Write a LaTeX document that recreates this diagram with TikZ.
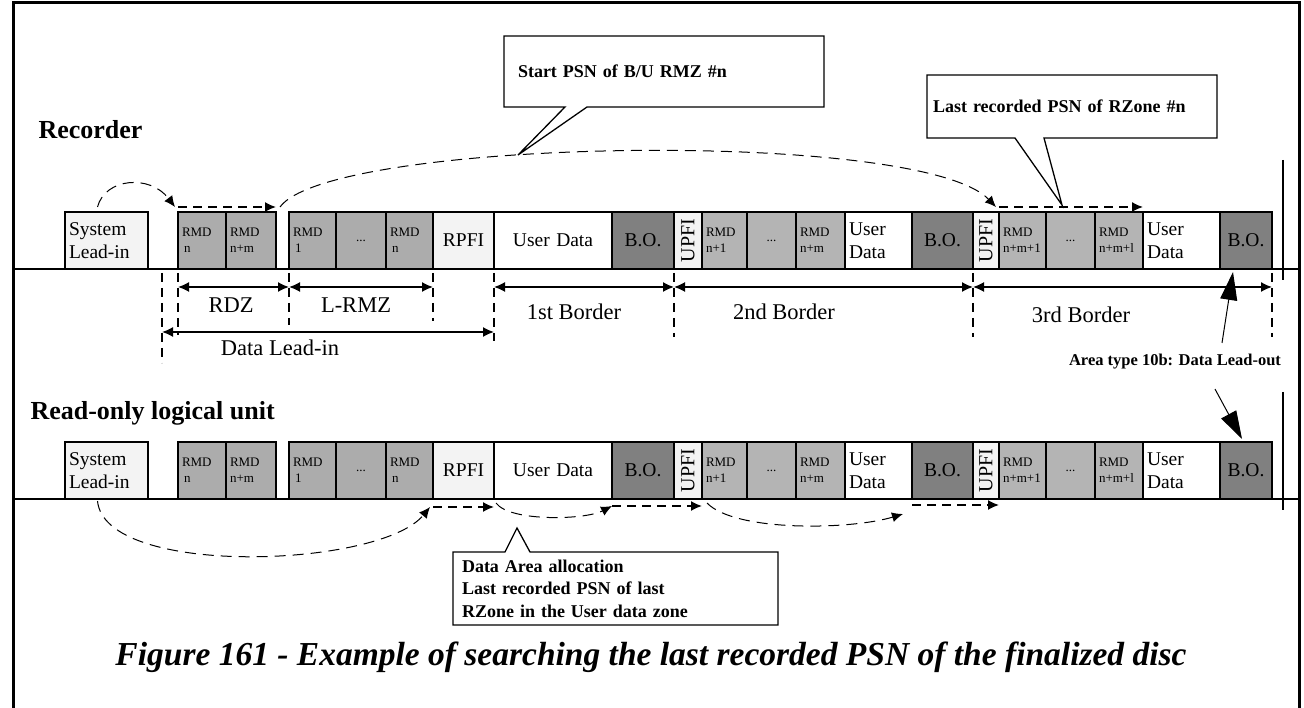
\documentclass[tikz,border=0pt]{standalone}
\usepackage{fontspec}
\setmainfont{Liberation Serif}
\usetikzlibrary{arrows.meta}

\definecolor{litegray}{RGB}{243,243,243}
\definecolor{rmdgray}{RGB}{172,172,172}
\definecolor{rmdgrayb}{RGB}{180,180,180}
\definecolor{bogray}{RGB}{128,128,128}

\begin{document}
\begin{tikzpicture}[x=1pt,y=-1pt,>=Latex]
\tikzset{
  cell/.style={draw, line width=1.6pt, outer sep=0pt, inner xsep=4pt, inner ysep=0pt,
    minimum height=57pt, anchor=south west, font=\fontsize{19.5}{23}\selectfont},
  liteL/.style={cell, fill=litegray, align=left},
  lite/.style={cell, fill=litegray, align=center},
  udL/.style={cell, fill=white, align=left},
  ud/.style={cell, fill=white, align=center},
  bo/.style={cell, fill=bogray, align=center},
  rmdA/.style={cell, fill=rmdgray, align=left, font=\fontsize{13}{16}\selectfont},
  rmdAc/.style={rmdA, align=center},
  rmdB/.style={cell, fill=rmdgrayb, align=left, font=\fontsize{13}{16}\selectfont},
  rmdBc/.style={rmdB, align=center},
  upfi/.style={rotate=90, font=\fontsize{20}{24}\selectfont},
  track/.style={line width=1.6pt},
  dim/.style={<->, line width=1.6pt, >={Latex[length=11pt,width=10pt]}},
  dimlab/.style={font=\fontsize{22.5}{27}\selectfont},
  tick/.style={line width=1.5pt, dash pattern=on 9pt off 6pt},
  dline/.style={->, line width=1.6pt, dash pattern=on 9pt off 6pt, >={Latex[length=11pt,width=10pt]}},
  dcurve/.style={->, line width=1pt, dash pattern=on 11pt off 7pt, >={Latex[length=11pt,width=10pt]}},
  cbox/.style={fill=white, outer sep=0pt, inner ysep=0pt, align=left,
    font=\fontsize{18}{22.5}\selectfont\bfseries},
  cline/.style={line width=1.3pt, line join=miter},
  head/.style={font=\fontsize{26}{31}\selectfont\bfseries, anchor=west},
  bigarr/.style={-{Triangle[length=28pt,width=17pt]}, line width=1pt},
}
\useasboundingbox (0,0) rectangle (1304,708);

% frame
\draw[line width=3pt] (13,708) -- (13,3) -- (1299,3) -- (1299,708);

% tracks
\coordinate (uL) at (13,269);
\coordinate (uR) at (1299,269);
\coordinate (lL) at (13,499);
\coordinate (lR) at (1299,499);
\draw[track] (uL) -- (uR);
\draw[track] (lL) -- (lR);
\coordinate (vu1) at (1283,160);
\coordinate (vu2) at (1283,280);
\coordinate (vl1) at (1283,392);
\coordinate (vl2) at (1283,510);
\draw[track] (vu1) -- (vu2);
\draw[track] (vl1) -- (vl2);

% cells of both tracks
\foreach \tr/\yb in {u/269,l/499}{
  \foreach \xa/\xb/\st/\txt/\nm in {
    65/148/liteL/{System\\Lead-in}/sli,
    178/226/rmdA/{RMD\\\hspace{2pt}n}/ra1,
    226/276/rmdA/{RMD\\n+m}/ra2,
    289/336/rmdA/{RMD\\\hspace{2pt}1}/rb1,
    336/386/rmdAc/{...}/rb2,
    386/433/rmdA/{RMD\\\hspace{2pt}n}/rb3,
    433/494/lite/{RPFI}/rpfi,
    494/612/ud/{User Data}/ud1,
    612/674/bo/{B.O.}/bo1,
    674/702/lite/{}/upfi1,
    702/747/rmdB/{RMD\\n+1}/rc1,
    747/796/rmdBc/{...}/rc2,
    796/845/rmdB/{RMD\\n+m}/rc3,
    845/912/udL/{User\\Data}/ud2,
    912/973/bo/{B.O.}/bo2,
    973/999/lite/{}/upfi2,
    999/1046/rmdB/{RMD\\n+m+1}/rd1,
    1046/1095/rmdBc/{...}/rd2,
    1095/1143/rmdB/{RMD\\n+m+l}/rd3,
    1143/1220/udL/{User\\Data}/ud3,
    1220/1272/bo/{B.O.}/bo3}{
    \pgfmathsetmacro\w{\xb-\xa}
    \pgfmathsetmacro\tw{\xb-\xa-8}
    \node[\st, minimum width=\w pt, text width=\tw pt] (\tr\nm) at (\xa,\yb) {\txt};
  }
  \node[upfi] at (\tr upfi1) {UPFI};
  \node[upfi] at (\tr upfi2) {UPFI};
}

% headings
\node[head] (rec) at (35,130) {Recorder};
\node[head] (rol) at (27,413) {Read-only logical unit};

% dimension lines
\coordinate (dA) at (0,287);
\coordinate (dB) at (0,332);
\coordinate (dl0) at (162,269);
\draw[tick] ([yshift=-4pt]dl0) -- ++(0,90);
\draw[tick] ([yshift=-4pt]ura1.south west) -- ++(0,62);
\draw[tick] ([yshift=-4pt]urb1.south west) -- ++(0,52);
\draw[tick] ([yshift=-4pt]urb3.south east) -- ++(0,48);
\draw[tick] ([yshift=-4pt]uud1.south west) -- ++(0,68);
\draw[tick] ([yshift=-4pt]uupfi1.south west) -- ++(0,64);
\draw[tick] ([yshift=-4pt]uupfi2.south west) -- ++(0,64);
\draw[tick] ([yshift=-4pt]ubo3.south east) -- ++(0,64);

\draw[dim] (ura1.south west |- dA) -- (urb1.south west |- dA);
\draw[dim] (urb1.south west |- dA) -- (urb3.south east |- dA);
\draw[dim] (dl0 |- dB) -- (uud1.south west |- dB);
\draw[dim] (uud1.south west |- dA) -- (ubo1.south east |- dA);
\draw[dim] (uupfi1.south west |- dA) -- (ubo2.south east |- dA);
\draw[dim] (uupfi2.south west |- dA) -- (ubo3.south east |- dA);

\node[dimlab] (rdz) at (231,305) {RDZ};
\node[dimlab] (lrmz) at (356,305) {L-RMZ};
\node[dimlab] (dlin) at (280,348) {Data Lead-in};
\node[dimlab] (b1) at (574,312) {1st Border};
\node[dimlab] (b2) at (784,312) {2nd Border};
\node[dimlab] (b3) at (1081,315) {3rd Border};

% recorder search path
\draw[dcurve] ([xshift=-9pt,yshift=5pt]usli.north) .. controls (105,178) and (150,174) .. ([xshift=-3pt,yshift=5pt]ura1.north west);
\draw[dline] ([yshift=5pt]ura1.north west) -- ([yshift=5pt]ura2.north east);
\draw[dcurve] ([xshift=4pt,yshift=5pt]ura2.north east) .. controls (330,138) and (920,128) .. ([xshift=-3pt,yshift=5pt]urd1.north west);
\draw[dline] ([yshift=5pt]urd1.north west) -- ([yshift=5pt]urd3.north east);

% read-only search path
\draw[dcurve] ([xshift=-9pt,yshift=-2pt]lsli.south) .. controls (105,578) and (380,568) .. ([xshift=-3pt,yshift=-8pt]lrb3.south east);
\draw[dline] ([yshift=-8pt]lrb3.south east) -- ([yshift=-8pt]lrpfi.south east);
\draw[dcurve] ([xshift=2pt,yshift=-4pt]lrpfi.south east) .. controls (510,522) and (585,520) .. ([yshift=-7pt]lbo1.south west);
\draw[dline] ([yshift=-7pt]lbo1.south west) -- ([yshift=-7pt]lupfi1.south east);
\draw[dcurve] ([xshift=5pt,yshift=-4pt]lupfi1.south east) .. controls (735,532) and (850,530) .. ([xshift=-9pt,yshift=-15pt]lbo2.south west);
\draw[dline] ([yshift=-6pt]lbo2.south west) -- ([yshift=-6pt]lupfi2.south east);

% callouts
\coordinate (tipA) at (518,155);
\coordinate (tipB) at (1062,205);
\coordinate (tipC) at (517,528);
\node[cbox, minimum width=320pt, minimum height=71pt, text width=292pt] (cs) at (664,71.5) {Start PSN of B/U RMZ \#n};
\draw[cline] (cs.north west) -- (cs.north east) -- (cs.south east) -- ([xshift=83pt]cs.south west) -- (tipA) -- ([xshift=61pt]cs.south west) -- (cs.south west) -- cycle;
\node[cbox, minimum width=290pt, minimum height=63pt, text width=278pt] (cl) at (1072,106.5) {Last recorded PSN of RZone \#n};
\draw[cline] (cl.north west) -- (cl.north east) -- (cl.south east) -- ([xshift=117pt]cl.south west) -- (tipB) -- ([xshift=88pt]cl.south west) -- (cl.south west) -- cycle;
\node[cbox, minimum width=325pt, minimum height=73pt, text width=307pt] (cd) at (615.5,588.5) {Data Area allocation\\Last recorded PSN of last\\RZone in the User data zone};
\draw[cline] (cd.north west) -- ([xshift=52pt]cd.north west) -- (tipC) -- ([xshift=77pt]cd.north west) -- (cd.north east) -- (cd.south east) -- (cd.south west) -- cycle;

% lead-out
\node[font=\fontsize{16.5}{20}\selectfont\bfseries] (area) at (1175,362) {Area type 10b: Data Lead-out};
\draw[bigarr] ([xshift=47pt,yshift=8pt]area.north) -- ([xshift=-13pt,yshift=-3pt]ubo3.south);
\draw[bigarr] ([xshift=40pt,yshift=-16pt]area.south) -- ([xshift=-4pt,yshift=3pt]lbo3.north);

% caption
\node[font=\fontsize{33.5}{40}\selectfont\bfseries\itshape] (fig) at (651,657) {Figure 161 - Example of searching the last recorded PSN of the finalized disc};
\end{tikzpicture}
\end{document}
